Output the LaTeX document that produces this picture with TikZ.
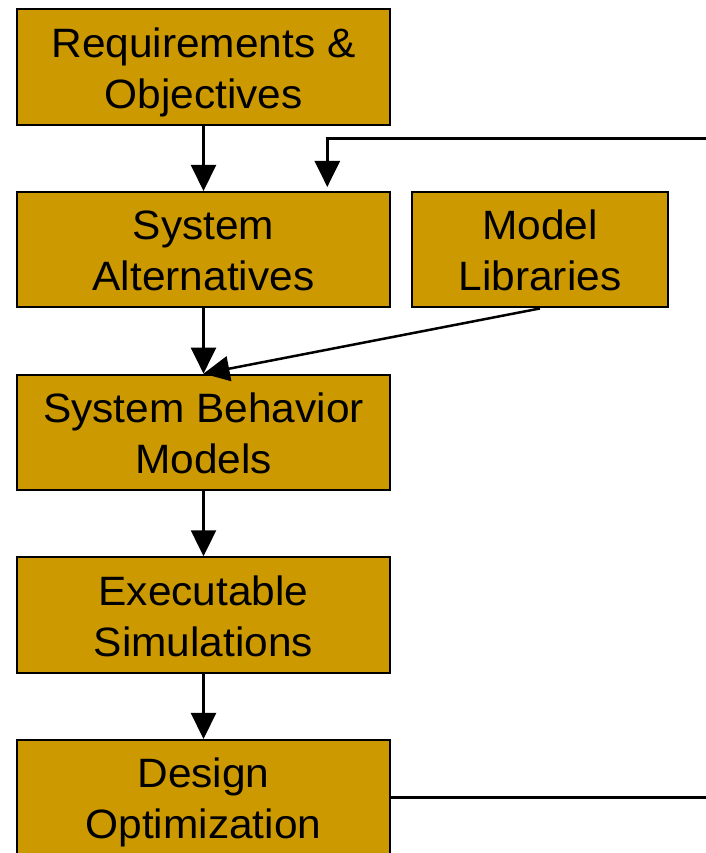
\documentclass[tikz,border=0pt]{standalone}
\usepackage{fontspec}
\setmainfont{Liberation Sans}[FakeStretch=1.035]
\usetikzlibrary{arrows.meta}
\definecolor{boxgold}{RGB}{204,153,0}
\tikzset{
  flowbox/.style={draw=black, line width=2pt, fill=boxgold, rectangle,
    minimum height=115.5pt, inner sep=0pt, align=center,
    font=\fontsize{41}{51}\selectfont, text height=82pt, text depth=0pt},
  wide/.style={minimum width=373.6pt},
  narrow/.style={minimum width=255.4pt},
  conn/.style={draw=black, line width=2.5pt, -{Triangle[width=25pt,length=26pt]}},
  plain/.style={draw=black, line width=2.5pt}
}
\begin{document}
\begin{tikzpicture}[x=1pt,y=-1pt]
\useasboundingbox (0,0) rectangle (705,853);
\node[flowbox,wide] (req) at (203.5,67.2) {Requirements \&\\Objectives};
\node[flowbox,wide] (alt) at (203.5,249.7) {System\\Alternatives};
\node[flowbox,narrow] (lib) at (540,249.7) {Model\\Libraries};
\node[flowbox,wide] (beh) at (203.5,432.4) {System Behavior\\Models};
\node[flowbox,wide] (sim) at (203.5,615.0) {Executable\\Simulations};
\node[flowbox,wide] (opt) at (203.5,797.7) {Design\\Optimization};
\coordinate (fbdown) at (720,797.4);
\coordinate (fbup) at (720,138.3);
\coordinate (fbcorner) at (327.3,138.3);
\coordinate (fbtip) at (327.3,187);
\draw[conn] (req.south) -- (alt.north);
\draw[conn] (alt.south) -- (beh.north);
\draw[conn] (lib.south) -- (beh.north);
\draw[conn] (beh.south) -- (sim.north);
\draw[conn] (sim.south) -- (opt.north);
\draw[conn] (opt.east |- fbdown) -- (fbdown) -- (fbup) -- (fbcorner) -- (fbtip);
\end{tikzpicture}
\end{document}
